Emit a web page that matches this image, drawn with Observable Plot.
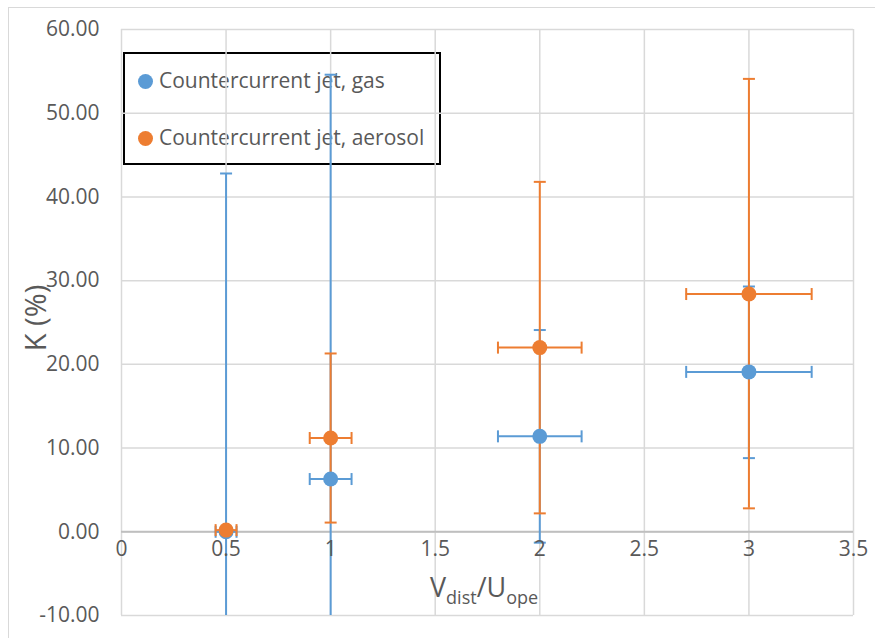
<!DOCTYPE html>
<html><head><meta charset="utf-8">
<script src="https://cdn.jsdelivr.net/npm/d3@7"></script>
<script src="https://cdn.jsdelivr.net/npm/@observablehq/plot@0.6"></script>
<style>
body{margin:0;background:#fff;font-family:"Open Sans",sans-serif;}
#wrap{position:relative;width:875px;height:638px;overflow:hidden;background:#fff;}
#frame{position:absolute;left:8px;top:7px;width:900px;height:700px;border:1.5px solid #d9d9d9;}
#legend{position:absolute;left:123px;top:52px;width:314px;height:109px;border:2px solid #000;}
.li{position:absolute;left:13px;font-size:21px;color:#595959;white-space:nowrap;line-height:1;}
.li .sw{display:inline-block;width:15px;height:15px;border-radius:50%;margin-right:6px;vertical-align:-1px;}
#chart{position:absolute;left:0;top:0;}
#xtitle{position:absolute;left:430px;top:573px;font-size:27px;color:#595959;line-height:1;white-space:nowrap;}
#xtitle sub{font-size:18px;vertical-align:-7px;}
#ytitle{position:absolute;left:34px;top:318px;transform:translate(-50%,-50%) rotate(-90deg);font-size:29px;color:#595959;white-space:nowrap;line-height:1;}
</style></head>
<body>
<div id="wrap">
  <div id="frame"></div>
  <div id="legend"></div>
  <div id="chart"></div>
  <div id="xtitle">V<sub>dist</sub>/U<sub>ope</sub></div>
  <div id="ytitle">K (%)</div>
</div>
<script>
const seriesNames = ["Countercurrent jet, gas", "Countercurrent jet, aerosol"];
const seriesColors = ["#5B9BD5", "#ED7D31"];

const gasX      = [0.5, 1, 2, 3];
const gasY      = [0.0, 6.3, 11.4, 19.1];
const gasYLow   = [-42.8, -42.0, -1.3, 8.8];
const gasYHigh  = [42.8, 54.6, 24.1, 29.3];
const gasXLow   = [0.45, 0.9, 1.8, 2.7];
const gasXHigh  = [0.55, 1.1, 2.2, 3.3];

const aeroX     = [0.5, 1, 2, 3];
const aeroY     = [0.2, 11.2, 22.0, 28.4];
const aeroYLow  = [-0.1, 1.1, 2.2, 2.8];
const aeroYHigh = [0.5, 21.3, 41.8, 54.1];
const aeroXLow  = [0.45, 0.9, 1.8, 2.7];
const aeroXHigh = [0.55, 1.1, 2.2, 3.3];

const xTicks = [0, 0.5, 1, 1.5, 2, 2.5, 3, 3.5];
const yTicks = [-10, 0, 10, 20, 30, 40, 50, 60];

function build(name, xs, ys, yl, yh, xl, xh) {
  return xs.map((x, i) => ({series: name, x, y: ys[i], yLow: yl[i], yHigh: yh[i], xLow: xl[i], xHigh: xh[i]}));
}
const gas = build(seriesNames[0], gasX, gasY, gasYLow, gasYHigh, gasXLow, gasXHigh);
const aero = build(seriesNames[1], aeroX, aeroY, aeroYLow, aeroYHigh, aeroXLow, aeroXHigh);

const hCap = {draw(ctx) { ctx.moveTo(-6, 0); ctx.lineTo(6, 0); }};
const vCap = {draw(ctx) { ctx.moveTo(0, -6); ctx.lineTo(0, 6); }};

function errMarks(data, color) {
  return [
    Plot.ruleX(data, {x: "x", y1: "yLow", y2: "yHigh", stroke: color, strokeWidth: 2, clip: true}),
    Plot.ruleY(data, {y: "y", x1: "xLow", x2: "xHigh", stroke: color, strokeWidth: 2, clip: true}),
    Plot.dot(data, {x: "x", y: "yHigh", symbol: hCap, stroke: color, fill: "none", strokeWidth: 2, clip: true}),
    Plot.dot(data, {x: "x", y: "yLow", symbol: hCap, stroke: color, fill: "none", strokeWidth: 2, clip: true}),
    Plot.dot(data, {x: "xLow", y: "y", symbol: vCap, stroke: color, fill: "none", strokeWidth: 2, clip: true}),
    Plot.dot(data, {x: "xHigh", y: "y", symbol: vCap, stroke: color, fill: "none", strokeWidth: 2, clip: true})
  ];
}

const fmtY = d => d3.format(".2f")(d).replace("\u2212", "-");

const chart = Plot.plot({
  width: 875,
  height: 638,
  marginLeft: 121,
  marginRight: 22,
  marginTop: 29,
  marginBottom: 23,
  style: {background: "transparent", fontFamily: "Open Sans, sans-serif"},
  x: {domain: [0, 3.5], axis: null},
  y: {domain: [-10, 60]},
  marks: [
    Plot.gridX(xTicks, {stroke: "#d9d9d9", strokeOpacity: 1, strokeWidth: 1.5}),
    Plot.gridY(yTicks, {stroke: "#d9d9d9", strokeOpacity: 1, strokeWidth: 1.5}),
    Plot.ruleY([0], {stroke: "#bfbfbf", strokeWidth: 2}),
    Plot.axisY(yTicks, {tickFormat: fmtY, tickSize: 0, tickPadding: 22, fontSize: 21, fill: "#595959", label: null}),
    ...errMarks(gas, seriesColors[0]),
    ...errMarks(aero, seriesColors[1]),
    Plot.dot(gas, {x: "x", y: "y", r: 7.5, fill: seriesColors[0]}),
    Plot.dot(aero, {x: "x", y: "y", r: 7.5, fill: seriesColors[1]}),
    Plot.text(xTicks, {x: d => d, y: 0, text: d => String(d), dy: 17, fontSize: 21, fill: "#595959"})
  ]
});
document.getElementById("chart").appendChild(chart);

const legend = document.getElementById("legend");
seriesNames.forEach((n, i) => {
  const d = document.createElement("div");
  d.className = "li";
  d.style.top = (16 + i * 57) + "px";
  d.innerHTML = `<span class="sw" style="background:${seriesColors[i]}"></span>${n}`;
  legend.appendChild(d);
});
</script>
</body></html>
